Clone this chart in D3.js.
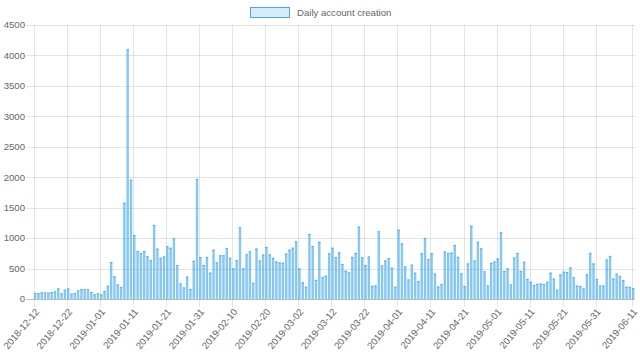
<!DOCTYPE html>
<html>
<head>
<meta charset="utf-8">
<script src="https://cdn.jsdelivr.net/npm/d3@7"></script>
<style>
  html, body { margin: 0; padding: 0; background: #fff; }
  svg { display: block; }
  text { font-family: "Liberation Sans", Arial, Helvetica, sans-serif; fill: #666; }
</style>
</head>
<body>
<svg id="chart" width="640" height="361"></svg>
<script>
const seriesName = "Daily account creation";
const startDay = "2018-12-12";
const endDay = "2019-06-11";
const dailyCounts = [
  97,92,108,108,103,113,124,173,92,151,
  173,86,97,140,162,157,157,113,76,92,
  76,130,216,605,373,238,194,1580,4100,1960,
  1048,788,756,788,702,637,1215,826,675,697,
  869,842,999,556,254,189,367,162,626,1970,
  686,556,691,432,810,600,718,718,832,675,
  502,637,1177,502,734,783,265,826,632,729,
  853,734,675,616,600,594,745,810,842,945,
  502,275,200,1069,869,313,940,362,383,751,
  842,686,767,572,464,437,691,756,1188,686,
  556,697,216,221,1112,551,632,670,513,200,
  1139,913,535,319,562,432,292,751,999,653,
  751,416,205,243,778,756,761,886,691,421,
  211,583,1204,632,940,832,454,221,594,616,
  664,1096,459,502,238,680,756,459,610,329,
  286,227,248,254,243,281,432,335,151,400,
  448,443,518,356,221,211,173,405,756,583,
  329,221,221,648,707,335,416,378,308,200,
  200,178
];
const xTickLabels = [
  "2018-12-12","2018-12-22","2019-01-01","2019-01-11","2019-01-21","2019-01-31",
  "2019-02-10","2019-02-20","2019-03-02","2019-03-12","2019-03-22","2019-04-01",
  "2019-04-11","2019-04-21","2019-05-01","2019-05-11","2019-05-21","2019-05-31","2019-06-11"
];
const yTickValues = [0,500,1000,1500,2000,2500,3000,3500,4000,4500];

(function () {
const parse = d3.utcParse("%Y-%m-%d");
const fmt = d3.utcFormat("%Y-%m-%d");
const start = parse(startDay);
const data = dailyCounts.map((v, i) => ({ date: d3.utcDay.offset(start, i), value: v }));

const svg = d3.select("#chart");
const pL = 34, pR = 632, pT = 25, pB = 299;

const x = d3.scaleUtc().domain([start, parse(endDay)]).range([pL, pR]);
const y = d3.scaleLinear().domain([0, 4500]).range([pB, pT]);

const dayW = x(d3.utcDay.offset(start, 1)) - x(start);
const barW = dayW * 0.74;
const barShift = dayW * 0.35;

// horizontal grid
const gy = svg.append("g");
gy.selectAll("line").data(yTickValues).join("line")
  .attr("x1", pL - 8).attr("x2", 635)
  .attr("y1", d => Math.round(y(d)) + 0.5).attr("y2", d => Math.round(y(d)) + 0.5)
  .attr("stroke", d => d === 0 ? "rgba(0,0,0,0.25)" : "rgba(0,0,0,0.1)")
  .attr("stroke-width", 1);
gy.selectAll("text").data(yTickValues).join("text")
  .attr("x", pL - 9).attr("y", d => y(d))
  .attr("dy", "0.35em")
  .attr("text-anchor", "end")
  .style("font-size", "9.6px")
  .text(d => d);

// vertical grid
const xTicks = xTickLabels.map(parse);
const gx = svg.append("g");
gx.selectAll("line").data(xTicks).join("line")
  .attr("x1", d => Math.round(x(d)) + 0.5).attr("x2", d => Math.round(x(d)) + 0.5)
  .attr("y1", pT).attr("y2", pB + 8)
  .attr("stroke", "rgba(0,0,0,0.1)")
  .attr("stroke-width", 1);
gx.selectAll("text").data(xTicks).join("text")
  .attr("transform", d => `translate(${x(d) + 3},${pB + 11}) rotate(-50)`)
  .attr("dy", "0.35em")
  .attr("text-anchor", "end")
  .style("font-size", "9.6px")
  .text(d => fmt(d));

// bars
svg.append("g").selectAll("rect").data(data).join("rect")
  .attr("x", d => x(d.date) + barShift - barW / 2)
  .attr("width", barW)
  .attr("y", d => y(d.value))
  .attr("height", d => pB - y(d.value))
  .attr("fill", "rgba(54,162,235,0.6)");
svg.append("g").selectAll("line").data(data).join("line")
  .attr("x1", d => x(d.date) + barShift - barW / 2)
  .attr("x2", d => x(d.date) + barShift + barW / 2)
  .attr("y1", d => y(d.value) + 0.4)
  .attr("y2", d => y(d.value) + 0.4)
  .attr("stroke", "rgba(54,162,235,0.9)")
  .attr("stroke-width", 0.8);

// legend
const lg = svg.append("g");
lg.append("rect")
  .attr("x", 250.5).attr("y", 7.5).attr("width", 39).attr("height", 10)
  .attr("fill", "rgba(54,162,235,0.2)")
  .attr("stroke", "rgba(54,162,235,0.9)")
  .attr("stroke-width", 1);
lg.append("text")
  .attr("x", 297).attr("y", 12.5).attr("dy", "0.35em")
  .style("font-size", "9.6px")
  .text(seriesName);
})();
</script>
</body>
</html>
